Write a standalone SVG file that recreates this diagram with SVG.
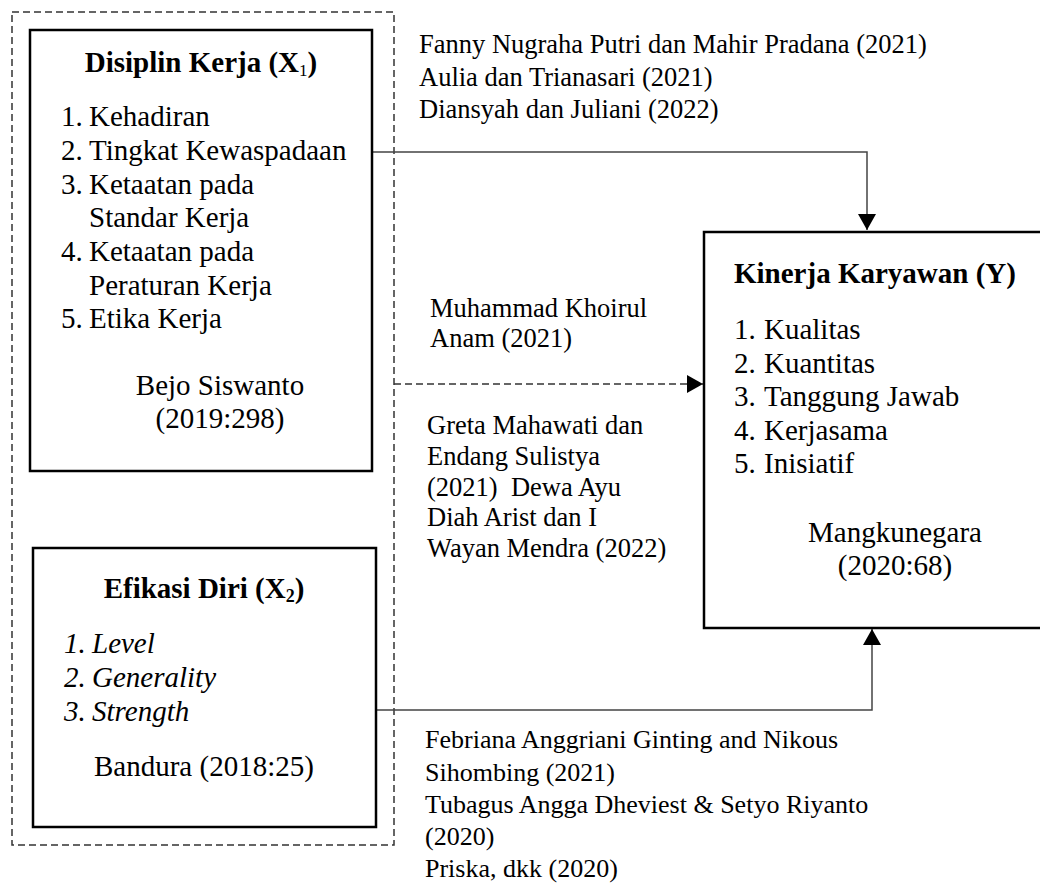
<svg xmlns="http://www.w3.org/2000/svg" width="1040" height="886" viewBox="0 0 1040 886">
<style>
text{font-family:"Liberation Serif","Times New Roman",serif;fill:#000}
.b{font-size:29px}
.t{font-size:29px;font-weight:bold}
.o{font-size:26.5px}
.s{font-size:26px}
.i{font-style:italic}
.box{fill:none;stroke:#000;stroke-width:2.5}
.ln{fill:none;stroke:#444;stroke-width:1.5}
.dash{fill:none;stroke:#333;stroke-width:1.5;stroke-dasharray:7 4}
</style>
<defs>
<marker id="ah" viewBox="0 0 16 18" refX="16" refY="9" markerWidth="16" markerHeight="18" markerUnits="userSpaceOnUse" orient="auto">
<path d="M0,0 L16,9 L0,18 Z" fill="#000"/>
</marker>
</defs>
<rect width="1040" height="886" fill="#fff"/>
<g id="group-x">
<rect x="12" y="12" width="382" height="833" class="dash"/>
</g>
<g id="connectors">
<path d="M372,152 H867 V230" class="ln" marker-end="url(#ah)"/>
<path d="M394,384 H703" class="dash" marker-end="url(#ah)"/>
<path d="M376,710 H872 V629" class="ln" marker-end="url(#ah)"/>
</g>
<g id="node-x1">
<rect x="30" y="30" width="342" height="441" class="box"/>
<text class="t" x="201" y="72" text-anchor="middle">Disiplin Kerja (X<tspan font-size="17" font-weight="normal" dy="4">1</tspan><tspan dy="-4">)</tspan></text>
<text class="b" x="61" y="126">1.</text><text class="b" x="89" y="126">Kehadiran</text>
<text class="b" x="61" y="160">2.</text><text class="b" x="89" y="160">Tingkat Kewaspadaan</text>
<text class="b" x="61" y="194">3.</text><text class="b" x="89" y="194">Ketaatan pada</text>
<text class="b" x="89" y="227">Standar Kerja</text>
<text class="b" x="61" y="261">4.</text><text class="b" x="89" y="261">Ketaatan pada</text>
<text class="b" x="89" y="295">Peraturan Kerja</text>
<text class="b" x="61" y="328">5.</text><text class="b" x="89" y="328">Etika Kerja</text>
<text class="b" x="220" y="395" text-anchor="middle">Bejo Siswanto</text>
<text class="b" x="220" y="428" text-anchor="middle">(2019:298)</text>
</g>
<g id="node-x2">
<rect x="33" y="548" width="343" height="279" class="box"/>
<text class="t" x="204" y="598" text-anchor="middle">Efikasi Diri (X<tspan font-size="18" dy="4">2</tspan><tspan dy="-4">)</tspan></text>
<text class="b i" x="64" y="653">1.</text><text class="b i" x="92" y="653">Level</text>
<text class="b i" x="64" y="687">2.</text><text class="b i" x="92" y="687">Generality</text>
<text class="b i" x="64" y="721">3.</text><text class="b i" x="92" y="721">Strength</text>
<text class="b" x="94" y="776">Bandura (2018:25)</text>
</g>
<g id="node-y">
<path d="M1042,232 H704 V628 H1042" class="box"/>
<text class="t" x="734" y="283">Kinerja Karyawan (Y)</text>
<text class="b" x="734" y="339">1.</text><text class="b" x="764" y="339">Kualitas</text>
<text class="b" x="734" y="373">2.</text><text class="b" x="764" y="373">Kuantitas</text>
<text class="b" x="734" y="406">3.</text><text class="b" x="764" y="406">Tanggung Jawab</text>
<text class="b" x="734" y="440">4.</text><text class="b" x="764" y="440">Kerjasama</text>
<text class="b" x="734" y="473">5.</text><text class="b" x="764" y="473">Inisiatif</text>
<text class="b" x="895" y="542" text-anchor="middle">Mangkunegara</text>
<text class="b" x="895" y="575" text-anchor="middle">(2020:68)</text>
</g>
<g id="label-x1-y">
<text class="o" x="419" y="53">Fanny Nugraha Putri dan Mahir Pradana (2021)</text>
<text class="o" x="419" y="86">Aulia dan Trianasari (2021)</text>
<text class="o" x="419" y="118">Diansyah dan Juliani (2022)</text>
</g>
<g id="label-xx-y">
<text class="o" x="430" y="317">Muhammad Khoirul</text>
<text class="o" x="430" y="347">Anam (2021)</text>
<text class="o" x="427" y="434">Greta Mahawati dan</text>
<text class="o" x="427" y="465">Endang Sulistya</text>
<text class="o" x="427" y="496" xml:space="preserve">(2021)  Dewa Ayu</text>
<text class="o" x="427" y="526">Diah Arist dan I</text>
<text class="o" x="427" y="557">Wayan Mendra (2022)</text>
</g>
<g id="label-x2-y">
<text class="s" x="425" y="748">Febriana Anggriani Ginting and Nikous</text>
<text class="s" x="425" y="781">Sihombing (2021)</text>
<text class="s" x="425" y="813">Tubagus Angga Dheviest &amp; Setyo Riyanto</text>
<text class="s" x="425" y="845">(2020)</text>
<text class="s" x="425" y="877">Priska, dkk (2020)</text>
</g>
</svg>
